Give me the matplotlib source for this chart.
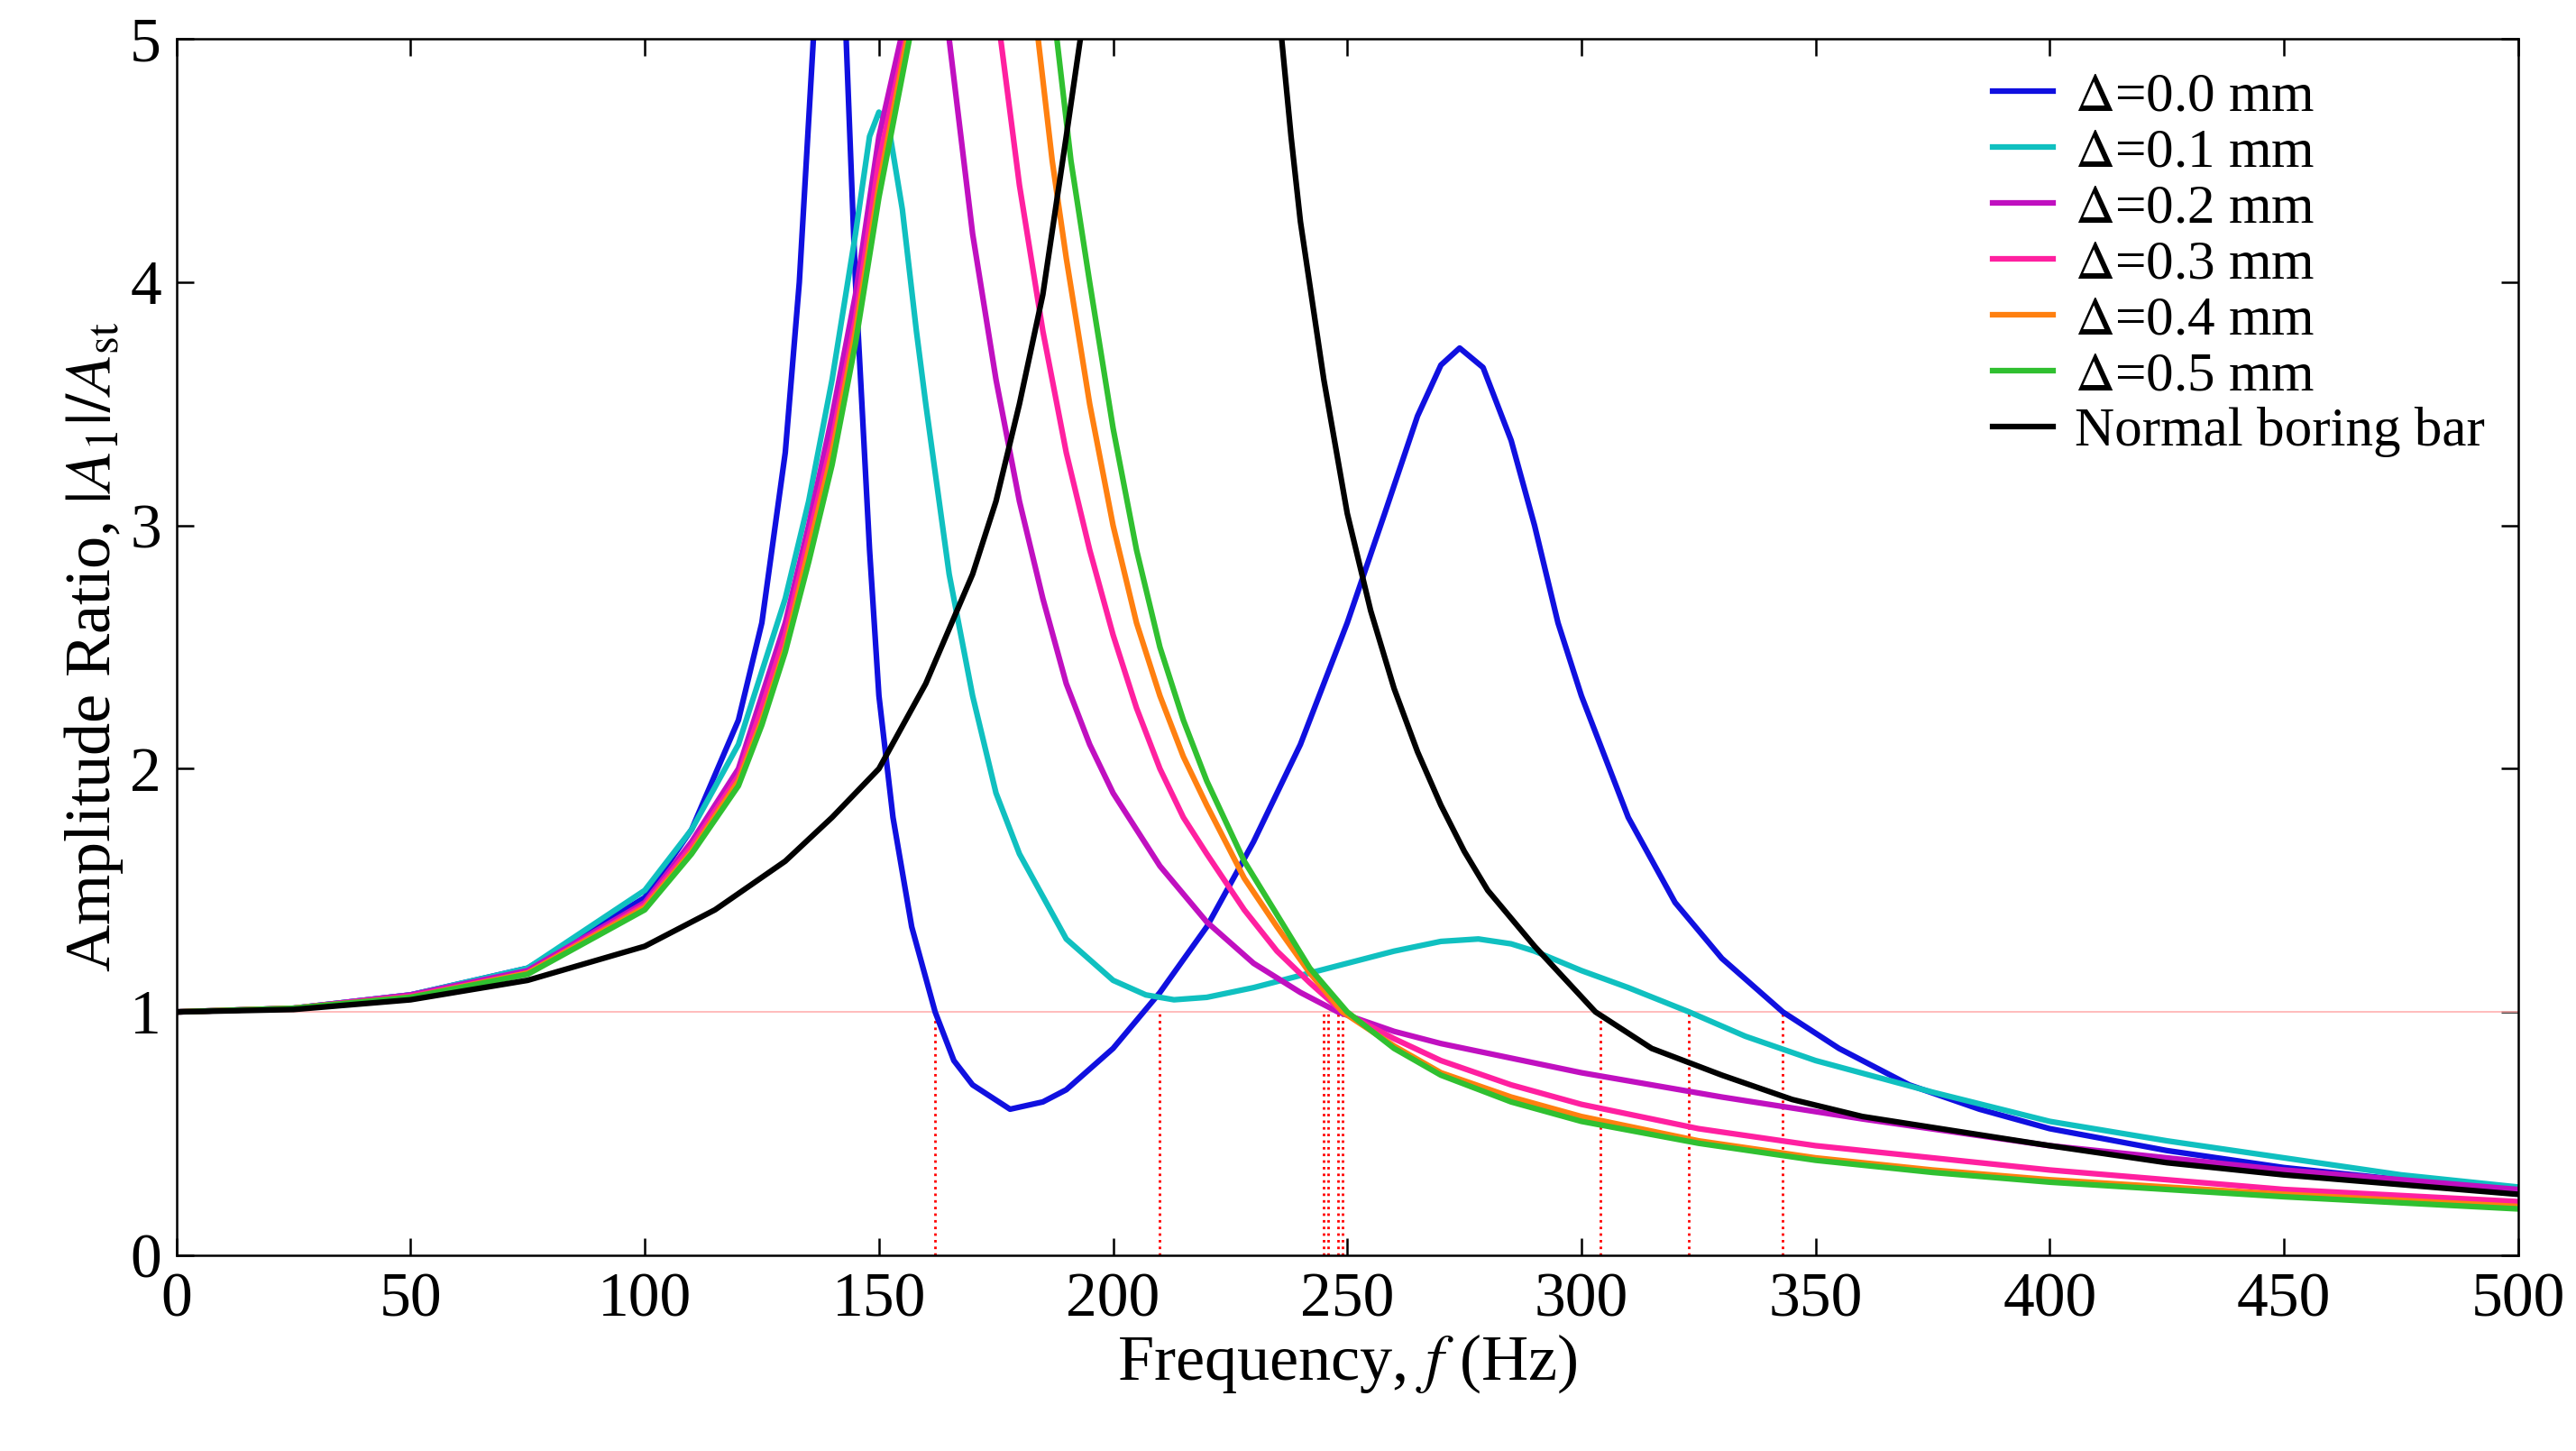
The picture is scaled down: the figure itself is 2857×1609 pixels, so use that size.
import numpy as np
import matplotlib.pyplot as plt

plt.rcParams['font.family'] = 'Liberation Serif'
plt.rcParams['mathtext.fontset'] = 'stix'

# Values (frequency in Hz, amplitude ratio); peaks beyond 5 are clipped
f_d00 = [0, 25, 50, 75, 100, 110, 120, 125, 130, 133, 136, 138, 140, 142, 143, 145, 148, 150, 153, 157, 162, 166, 170, 178, 185, 190, 200, 210, 220, 230, 240, 250, 258, 265, 270, 274, 279, 285, 290, 295, 300, 310, 320, 330, 343, 355, 370, 385, 400, 425, 450, 475, 500]
a_d00 = [1.0, 1.015, 1.07, 1.18, 1.47, 1.75, 2.2, 2.6, 3.3, 4.0, 5.0, 6.5, 8.0, 6.5, 5.0, 4.0, 2.9, 2.3, 1.8, 1.35, 1.0, 0.8, 0.7, 0.6, 0.63, 0.68, 0.85, 1.08, 1.35, 1.7, 2.1, 2.6, 3.05, 3.45, 3.66, 3.73, 3.65, 3.35, 3.0, 2.6, 2.3, 1.8, 1.45, 1.22, 1.0, 0.85, 0.7, 0.6, 0.52, 0.43, 0.36, 0.31, 0.27]

f_d01 = [0, 25, 50, 75, 100, 110, 120, 130, 135, 140, 145, 148, 150, 152, 155, 158, 160, 165, 170, 175, 180, 190, 200, 207, 213, 220, 230, 240, 250, 260, 270, 278, 285, 290, 300, 310, 323, 335, 350, 375, 400, 425, 450, 475, 500]
a_d01 = [1.0, 1.015, 1.07, 1.18, 1.5, 1.75, 2.1, 2.7, 3.1, 3.6, 4.2, 4.6, 4.7, 4.65, 4.3, 3.8, 3.5, 2.8, 2.3, 1.9, 1.65, 1.3, 1.13, 1.07, 1.05, 1.06, 1.1, 1.15, 1.2, 1.25, 1.29, 1.3, 1.28, 1.25, 1.17, 1.1, 1.0, 0.9, 0.8, 0.67, 0.55, 0.47, 0.4, 0.33, 0.28]

f_d02 = [0, 25, 50, 75, 100, 110, 120, 125, 130, 135, 140, 145, 150, 157, 161, 165, 170, 175, 180, 185, 190, 195, 200, 210, 220, 230, 240, 248, 260, 270, 285, 300, 330, 360, 400, 450, 500]
a_d02 = [1.0, 1.015, 1.07, 1.17, 1.45, 1.7, 2.0, 2.3, 2.6, 3.0, 3.45, 3.95, 4.6, 5.2, 7.0, 5.0, 4.2, 3.6, 3.1, 2.7, 2.35, 2.1, 1.9, 1.6, 1.37, 1.2, 1.08, 1.0, 0.92, 0.87, 0.81, 0.75, 0.65, 0.56, 0.45, 0.35, 0.27]

f_d03 = [0, 25, 50, 75, 100, 110, 120, 125, 130, 135, 140, 145, 150, 158, 167, 176, 180, 185, 190, 195, 200, 205, 210, 215, 220, 228, 235, 242, 249, 260, 270, 285, 300, 325, 350, 375, 400, 450, 500]
a_d03 = [1.0, 1.015, 1.065, 1.16, 1.44, 1.68, 1.97, 2.25, 2.55, 2.95, 3.35, 3.85, 4.5, 5.2, 8.0, 5.0, 4.4, 3.8, 3.3, 2.9, 2.55, 2.25, 2.0, 1.8, 1.65, 1.42, 1.25, 1.12, 1.0, 0.89, 0.8, 0.7, 0.62, 0.52, 0.45, 0.4, 0.35, 0.27, 0.22]

f_d04 = [0, 25, 50, 75, 100, 110, 120, 125, 130, 135, 140, 145, 150, 157, 170, 184, 187, 190, 195, 200, 205, 210, 215, 220, 228, 235, 242, 249, 260, 270, 285, 300, 325, 350, 375, 400, 450, 500]
a_d04 = [1.0, 1.015, 1.06, 1.16, 1.43, 1.66, 1.95, 2.2, 2.5, 2.9, 3.3, 3.8, 4.4, 5.1, 8.0, 5.0, 4.5, 4.1, 3.5, 3.0, 2.6, 2.3, 2.05, 1.85, 1.55, 1.35, 1.16, 1.0, 0.86, 0.75, 0.65, 0.57, 0.47, 0.4, 0.35, 0.31, 0.25, 0.2]

f_d05 = [0, 25, 50, 75, 100, 110, 120, 125, 130, 135, 140, 145, 150, 157, 172, 188, 191, 195, 200, 205, 210, 215, 220, 228, 235, 242, 250, 260, 270, 285, 300, 325, 350, 375, 400, 450, 500]
a_d05 = [1.0, 1.015, 1.06, 1.155, 1.42, 1.65, 1.93, 2.18, 2.48, 2.85, 3.25, 3.75, 4.35, 5.05, 8.0, 5.0, 4.5, 4.0, 3.4, 2.9, 2.5, 2.2, 1.95, 1.62, 1.4, 1.18, 1.0, 0.85, 0.74, 0.63, 0.55, 0.46, 0.39, 0.34, 0.3, 0.24, 0.19]

f_norm = [0, 25, 50, 75, 100, 115, 130, 140, 150, 160, 170, 175, 180, 185, 190, 193, 215, 236, 238, 240, 245, 250, 255, 260, 265, 270, 275, 280, 290, 303, 315, 330, 345, 360, 380, 400, 425, 450, 475, 500]
a_norm = [1.0, 1.01, 1.05, 1.13, 1.27, 1.42, 1.62, 1.8, 2.0, 2.35, 2.8, 3.1, 3.5, 3.95, 4.6, 5.0, 9.0, 5.0, 4.6, 4.25, 3.6, 3.05, 2.65, 2.33, 2.07, 1.85, 1.66, 1.5, 1.27, 1.0, 0.85, 0.74, 0.64, 0.57, 0.51, 0.45, 0.38, 0.33, 0.29, 0.25]

crossings = [162, 210, 245, 246, 248, 249, 304, 323, 343]

series = [
    (f_d00, a_d00, '#1010e0', r'$\Delta$=0.0 mm'),
    (f_d01, a_d01, '#10c0c0', r'$\Delta$=0.1 mm'),
    (f_d02, a_d02, '#c010c0', r'$\Delta$=0.2 mm'),
    (f_d03, a_d03, '#ff20a0', r'$\Delta$=0.3 mm'),
    (f_d04, a_d04, '#ff8010', r'$\Delta$=0.4 mm'),
    (f_d05, a_d05, '#30c030', r'$\Delta$=0.5 mm'),
    (f_norm, a_norm, 'black', 'Normal boring bar'),
]

fig = plt.figure(figsize=(28.57, 16.09), dpi=100)
ax = fig.add_axes([0.0685, 0.135, 0.909, 0.838])

ax.axhline(1, color='#ffb0b0', lw=1.2)
for c in crossings:
    ax.plot([c, c], [0, 1], color='red', ls=':', lw=2)

for f, a, col, lab in series:
    ax.plot(f, a, color=col, lw=4.5, label=lab)

ax.set_xlim(0, 500)
ax.set_ylim(0, 5)
ax.set_xticks(np.arange(0, 501, 50))
ax.set_yticks(np.arange(0, 6, 1))
ax.tick_params(direction='in', top=True, right=True, labelsize=50, length=14, width=1.8)
ax.tick_params(axis='x', pad=14)
ax.tick_params(axis='y', pad=12)
for s in ax.spines.values():
    s.set_linewidth(1.8)
ax.set_xlabel(r'Frequency, $f$ (Hz)', fontsize=52, labelpad=2)
ax.set_ylabel(r'Amplitude Ratio, $|A_1|/A_{\rm st}$', fontsize=52, labelpad=4)
ax.legend(loc='upper right', fontsize=44, frameon=False, handlelength=1.1,
          handletextpad=0.4, labelspacing=0.1, borderaxespad=0.2)

fig.savefig('out.png', dpi=100)
